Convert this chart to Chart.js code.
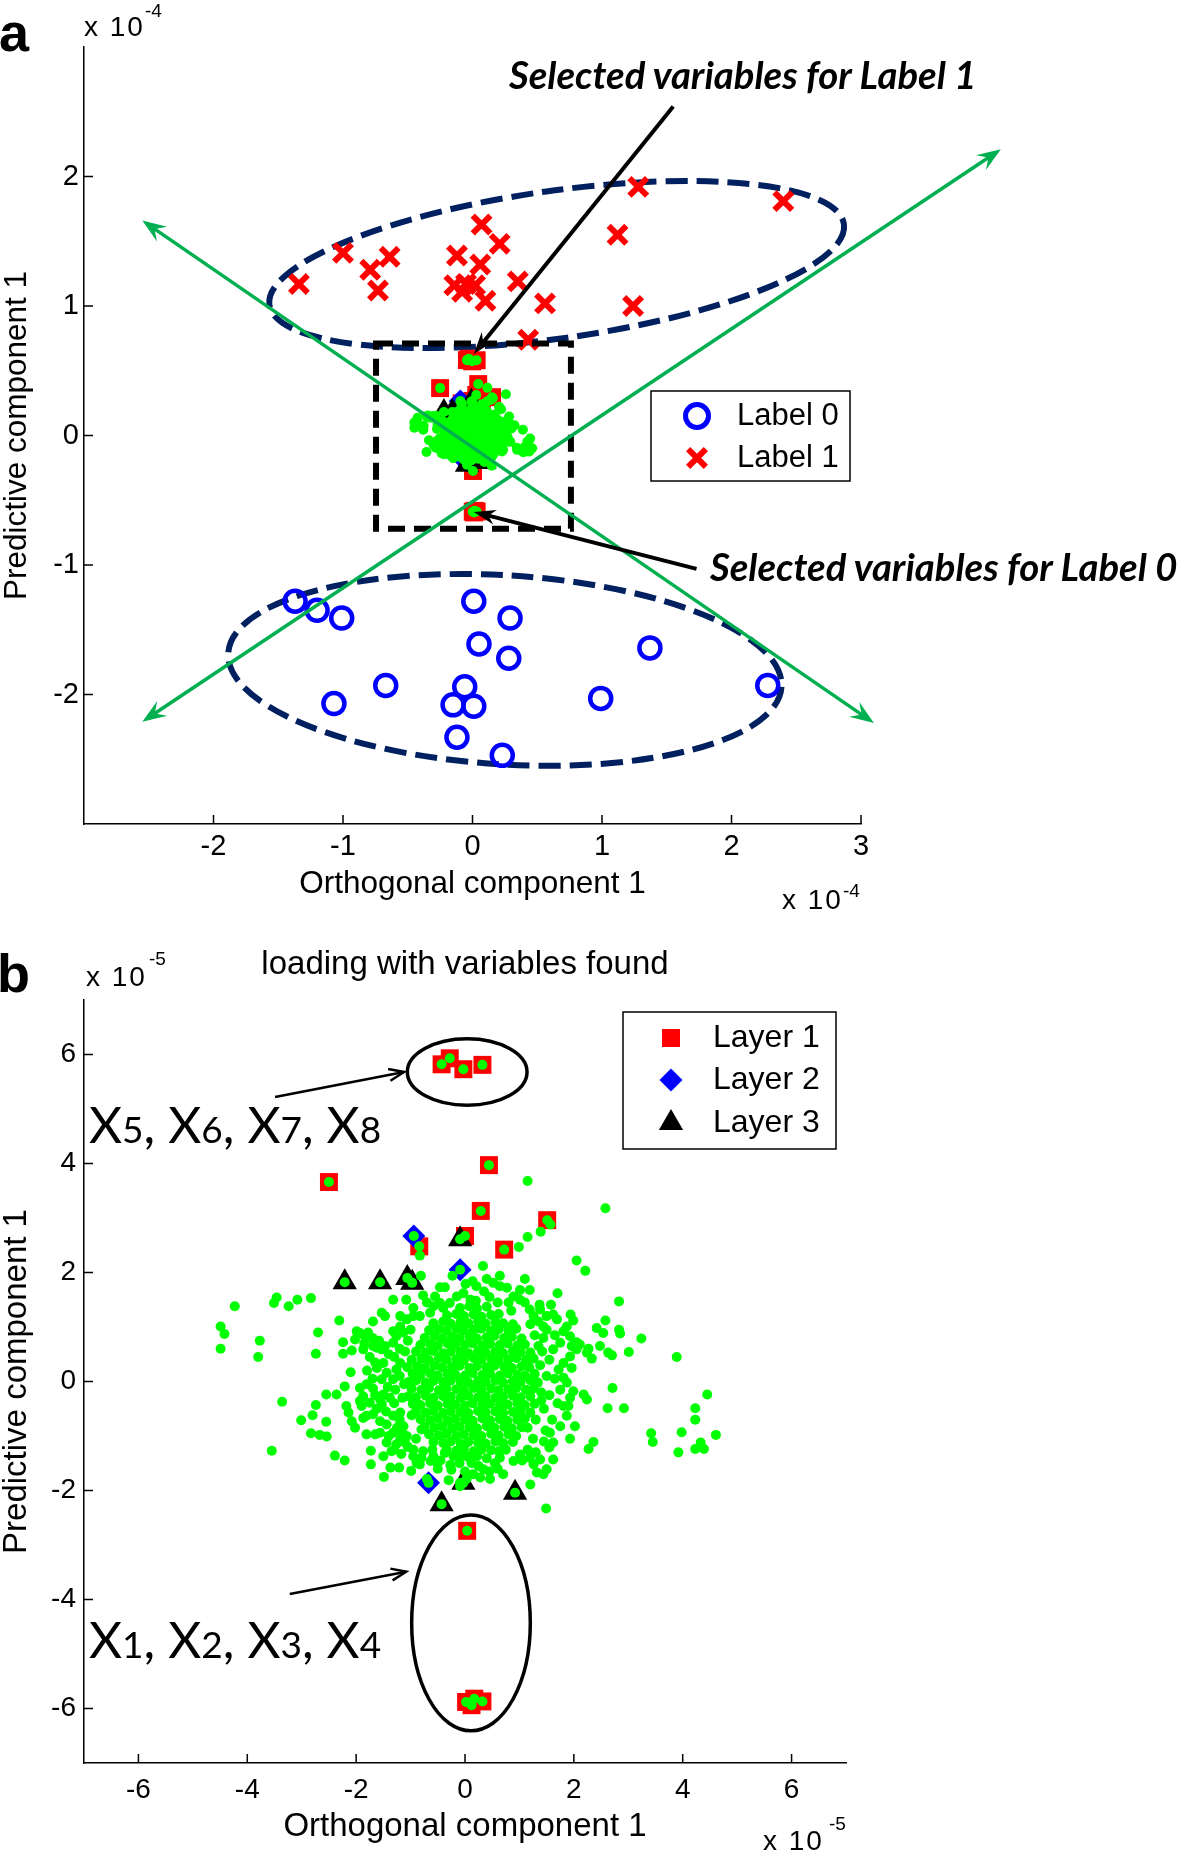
<!DOCTYPE html>
<html lang="en">
<head>
<meta charset="utf-8">
<title>Scores and loadings with selected variables</title>
<script src="https://cdn.jsdelivr.net/npm/chart.js@4.4.1/dist/chart.umd.min.js"></script>
<style>
  html, body { margin: 0; padding: 0; background: #fff; }
  #page { position: relative; width: 1180px; height: 1854px; overflow: hidden; }
  #page canvas { position: absolute; left: 0; }
  .txt { position: absolute; white-space: nowrap; line-height: 1; color: #000;
         font-family: "Liberation Sans", Arial, Helvetica, sans-serif; }
  .panel { font-weight: bold; font-size: 54px; }
  .mult { font-size: 28px; letter-spacing: 2px; }
  .pow { font-size: 19px; }
  .note { font-family: Lato, "Open Sans", sans-serif; font-weight: 700; font-style: italic; font-size: 38.3px; }
  .vars { font-family: Lato, "Open Sans", sans-serif; font-size: 51px; }
  .vars span { font-size: 37px; }
</style>
</head>
<body>
<div id="page">
  <canvas id="chartA" width="1180" height="930" style="top:0"></canvas>
  <canvas id="chartB" width="1180" height="924" style="top:930px"></canvas>

  <div class="txt panel" style="left:-1px;top:5px">a</div>
  <div class="txt mult" style="left:84px;top:13px">x 10</div>
  <div class="txt pow" style="left:145px;top:1px">-4</div>
  <div class="txt mult" style="left:782px;top:886px">x 10</div>
  <div class="txt pow" style="left:843px;top:881px">-4</div>
  <div class="txt note" style="left:509px;top:55px">Selected variables for Label 1</div>
  <div class="txt note" style="left:710px;top:547px">Selected variables for Label 0</div>

  <div class="txt panel" style="left:-3px;top:946px">b</div>
  <div class="txt mult" style="left:86px;top:963px">x 10</div>
  <div class="txt pow" style="left:149px;top:949px">-5</div>
  <div class="txt mult" style="left:763px;top:1827px">x 10</div>
  <div class="txt pow" style="left:829px;top:1814px">-5</div>
  <div class="txt vars" style="left:89px;top:1098px">X<span>5</span>, X<span>6</span>, X<span>7</span>, X<span>8</span></div>
  <div class="txt vars" style="left:89px;top:1613px">X<span>1</span>, X<span>2</span>, X<span>3</span>, X<span>4</span></div>
</div>
<script>
const FONT = '"Liberation Sans", Arial, Helvetica, sans-serif';

// ---------- panel a : scores (axes in 1e-4) ----------
const aXTicks = [-2, -1, 0, 1, 2, 3];
const aYTicks = [-2, -1, 0, 1, 2];
const label0X = [-1.37, -1.20, -1.01, 0.01, 0.29, 0.05, 0.28, 1.37, -0.67, -0.06, -1.07, -0.15, 0.01, -0.12, 0.23, 0.99, 2.28];
const label0Y = [-1.28, -1.35, -1.41, -1.28, -1.41, -1.61, -1.72, -1.64, -1.93, -1.94, -2.07, -2.08, -2.09, -2.33, -2.47, -2.03, -1.93];
const label1X = [-1.34, -1.00, -0.79, -0.64, -0.73, -0.12, 0.07, 0.21, 0.06, -0.14, -0.05, -0.08, 0.02, 0.10, 0.35, 0.56, 0.43, 1.28, 1.12, 2.40, 1.24];
const label1Y = [1.17, 1.41, 1.28, 1.38, 1.12, 1.39, 1.63, 1.48, 1.32, 1.16, 1.17, 1.11, 1.16, 1.04, 1.19, 1.02, 0.74, 1.92, 1.55, 1.81, 1.00];

// ---------- panel b : loadings (axes in 1e-5) ----------
const bTicks = [-6, -4, -2, 0, 2, 4, 6];
const layer1 = [[-2.50, 3.66], [0.44, 3.97], [0.29, 3.13], [1.51, 2.96], [0.00, 2.67], [-0.84, 2.48], [0.72, 2.42],
  [-0.43, 5.82], [-0.28, 5.93], [-0.03, 5.73], [0.32, 5.81],
  [0.04, -2.74], [0.02, -5.88], [0.17, -5.82], [0.32, -5.87], [0.12, -5.94]];
const layer2 = [[-0.94, 2.67], [-0.09, 2.05], [-0.67, -1.86]];
const layer3 = [[-2.21, 1.82], [-1.56, 1.82], [-1.06, 1.90], [-0.97, 1.81], [-0.09, 2.61], [-0.03, -1.86], [-0.43, -2.25], [0.92, -2.04]];
const loadings = [
  // dense core
  [-0.09,1.35],[0.08,1.38],[0.22,1.34],[0.40,1.37],
  [-0.33,1.21],[-0.16,1.24],[-0.02,1.20],[0.16,1.23],[0.30,1.19],[0.48,1.22],[0.62,1.24],
  [-0.58,1.07],[-0.40,1.10],[-0.26,1.06],[-0.08,1.09],[0.06,1.07],[0.24,1.10],[0.38,1.06],[0.56,1.09],[0.70,1.07],[0.88,1.05],
  [-0.66,0.94],[-0.48,0.96],[-0.34,0.93],[-0.16,0.97],[-0.02,0.94],[0.16,0.95],[0.30,0.97],[0.48,0.93],[0.62,0.96],[0.80,0.94],[0.94,0.97],
  [-0.74,0.80],[-0.56,0.83],[-0.42,0.79],[-0.24,0.82],[-0.10,0.80],[0.08,0.83],[0.22,0.79],[0.40,0.81],[0.54,0.84],[0.72,0.80],[0.86,0.82],[1.04,0.79],
  [-0.82,0.67],[-0.64,0.69],[-0.50,0.66],[-0.32,0.70],[-0.18,0.67],[0.00,0.68],[0.14,0.70],[0.32,0.66],[0.46,0.69],[0.64,0.67],[0.78,0.70],[0.96,0.66],[1.10,0.68],
  [-0.90,0.55],[-0.72,0.53],[-0.58,0.56],[-0.40,0.52],[-0.26,0.55],[-0.08,0.54],[0.06,0.52],[0.24,0.56],[0.38,0.53],[0.56,0.55],[0.70,0.52],[0.88,0.56],[1.02,0.54],[1.20,0.53],
  [-0.98,0.40],[-0.80,0.42],[-0.66,0.39],[-0.48,0.43],[-0.34,0.40],[-0.16,0.41],[-0.02,0.39],[0.16,0.43],[0.30,0.40],[0.48,0.42],[0.62,0.39],[0.80,0.41],[0.94,0.43],[1.12,0.40],[1.26,0.42],
  [-1.06,0.26],[-0.88,0.28],[-0.74,0.25],[-0.56,0.29],[-0.42,0.26],[-0.24,0.27],[-0.10,0.29],[0.08,0.25],[0.22,0.28],[0.40,0.26],[0.54,0.29],[0.72,0.27],[0.86,0.25],[1.04,0.28],[1.18,0.26],
  [-0.96,0.14],[-0.82,0.12],[-0.64,0.15],[-0.50,0.11],[-0.32,0.14],[-0.18,0.13],[0.00,0.11],[0.14,0.15],[0.32,0.12],[0.46,0.14],[0.64,0.11],[0.78,0.15],[0.96,0.13],[1.10,0.11],[1.28,0.14],
  [-1.04,-0.01],[-0.90,0.02],[-0.72,-0.02],[-0.58,0.01],[-0.40,-0.01],[-0.26,0.02],[-0.08,0.00],[0.06,-0.02],[0.24,0.01],[0.38,-0.01],[0.56,0.02],[0.70,-0.02],[0.88,0.01],[1.02,-0.01],[1.20,0.02],[1.34,-0.02],
  [-0.98,-0.13],[-0.80,-0.15],[-0.66,-0.12],[-0.48,-0.16],[-0.34,-0.13],[-0.16,-0.14],[-0.02,-0.16],[0.16,-0.12],[0.30,-0.15],[0.48,-0.13],[0.62,-0.16],[0.80,-0.14],[0.94,-0.12],[1.12,-0.15],[1.26,-0.13],
  [-1.04,-0.27],[-0.90,-0.29],[-0.72,-0.26],[-0.58,-0.30],[-0.40,-0.27],[-0.26,-0.28],[-0.08,-0.30],[0.06,-0.26],[0.24,-0.29],[0.38,-0.27],[0.56,-0.30],[0.70,-0.28],[0.88,-0.26],[1.02,-0.29],[1.20,-0.27],
  [-0.96,-0.41],[-0.82,-0.43],[-0.64,-0.40],[-0.50,-0.44],[-0.32,-0.41],[-0.18,-0.42],[0.00,-0.44],[0.14,-0.40],[0.32,-0.43],[0.46,-0.41],[0.64,-0.44],[0.78,-0.42],[0.96,-0.40],[1.10,-0.43],[1.28,-0.41],
  [-0.90,-0.55],[-0.72,-0.57],[-0.58,-0.54],[-0.40,-0.58],[-0.26,-0.55],[-0.08,-0.56],[0.06,-0.58],[0.24,-0.54],[0.38,-0.57],[0.56,-0.55],[0.70,-0.58],[0.88,-0.56],[1.02,-0.54],[1.20,-0.57],
  [-0.82,-0.69],[-0.64,-0.71],[-0.50,-0.68],[-0.32,-0.72],[-0.18,-0.69],[0.00,-0.70],[0.14,-0.72],[0.32,-0.68],[0.46,-0.71],[0.64,-0.69],[0.78,-0.72],[0.96,-0.70],[1.10,-0.68],
  [-0.74,-0.83],[-0.56,-0.85],[-0.42,-0.82],[-0.24,-0.86],[-0.10,-0.83],[0.08,-0.84],[0.22,-0.86],[0.40,-0.82],[0.54,-0.85],[0.72,-0.83],[0.86,-0.86],[1.04,-0.84],
  [-0.66,-0.97],[-0.48,-0.99],[-0.34,-0.96],[-0.16,-1.00],[-0.02,-0.97],[0.16,-0.98],[0.30,-1.00],[0.48,-0.96],[0.62,-0.99],[0.80,-0.97],[0.94,-1.00],
  [-0.58,-1.11],[-0.40,-1.13],[-0.26,-1.10],[-0.08,-1.14],[0.06,-1.11],[0.24,-1.12],[0.38,-1.14],[0.56,-1.10],[0.70,-1.13],[0.88,-1.11],
  [-0.34,-1.25],[-0.16,-1.27],[-0.02,-1.24],[0.16,-1.28],[0.30,-1.25],[0.48,-1.26],[0.62,-1.28],
  [-0.10,-1.38],[0.08,-1.40],[0.22,-1.37],[0.40,-1.41],
  // fringe round the core
  [-1.99,0.92],[-1.84,0.83],[-1.87,0.59],[-1.69,0.65],[-1.62,0.62],[-1.53,0.59],[-1.47,0.65],[-1.32,0.92],[-1.26,0.83],[-1.19,1.01],
  [-1.13,0.90],[-1.62,0.25],[-1.50,0.34],[-1.44,0.16],[-1.53,0.04],[-1.32,0.04],[-1.26,0.22],[-1.19,0.34],[-1.93,-0.12],[-1.81,-0.05],
  [-1.69,-0.13],[-1.87,-0.27],[-1.93,-0.36],[-1.90,-0.45],[-1.75,-0.39],[-1.56,-0.33],[-1.53,-0.42],[-1.50,-0.24],[-1.38,-0.30],[-2.18,-0.45],
  [-2.14,-0.57],[-2.08,-0.73],[-2.02,-0.85],[-1.87,-0.67],[-1.81,-0.63],[-1.69,-0.60],[-1.56,-0.73],[-1.44,-0.79],[-1.32,-0.63],[-1.19,-0.57],
  [-1.13,-0.82],[-1.32,-0.94],[-1.19,-1.06],[-1.07,-1.00],[-1.56,-0.94],[-1.81,-0.97],[-1.65,-0.97],[-1.44,-1.12],[-1.26,-1.15],[-1.10,-1.12],
  [-0.95,-1.25],[-1.50,-1.37],[-1.35,-1.28],[-0.95,-1.37],[-0.77,-1.28],[-0.58,-1.37],[-0.83,-1.52],[-0.37,-1.31],[-0.21,-1.37],[0.03,-1.37],
  [0.64,-1.40],[0.89,-1.46],[1.01,-1.34],[1.19,-1.40],[1.26,-1.52],[1.38,-1.43],[1.62,-1.12],[1.56,-0.94],[1.75,-0.82],[1.87,-0.63],
  [1.81,-0.45],[1.93,-0.30],[1.75,-0.15],[1.87,-0.02],[1.72,0.22],[1.81,0.34],[1.93,0.46],[2.05,0.59],[2.11,0.68],[1.62,0.59],
  [1.75,0.71],[1.93,0.83],[1.81,0.92],[1.87,1.01],[1.69,1.14],[1.50,1.20],[1.62,1.23],[1.38,1.32],[1.19,1.32],[1.26,1.20],
  [1.01,1.50],[0.89,1.56],[1.19,1.68],[1.01,1.68],[0.77,1.72],[0.64,1.75],[0.52,1.81],[0.21,1.75],[-0.03,1.62],[-0.15,1.56],
  [-0.28,1.44],[-0.58,1.38],[-0.64,1.26],[-0.83,1.20],[-0.95,1.20],[-1.07,1.14],[-1.19,1.20],[-1.32,0.71],[2.24,0.53],[1.44,1.01],
  [1.96,0.65],[1.45,-0.50],[1.50,0.10],[1.42,0.55],[1.48,-0.90],[-1.15,-0.30],[-1.20,0.10],[-1.10,0.55],[-1.25,-0.85],[1.40,-0.20],
  [1.38,0.30],[1.44,0.80],[1.30,-0.70],[-1.12,-0.05],[-1.05,0.75],[-0.98,-0.62],[0.60,1.45],[0.10,1.50],[0.85,1.30],[-0.40,1.35],
  [0.75,-1.25],[-0.60,-1.25],[1.15,-1.25],[0.20,1.48],[0.45,1.55],
  [-1.85,0.70],[-1.70,0.80],[-1.58,0.75],[-1.40,0.50],[-1.30,0.45],[-1.75,0.45],[-1.65,0.35],[-1.80,0.20],[-1.70,0.05],[-1.42,-0.10],
  [-1.28,-0.15],[-1.65,-0.25],[-1.45,-0.55],[-1.62,-0.50],[-1.30,-0.40],[-1.20,-0.70],[-1.40,-1.00],[-1.15,-0.95],[-1.30,-1.25],[-1.05,-1.20],
  [-0.80,-1.40],[-0.45,-1.45],[-0.10,-1.50],[0.55,-1.50],[1.05,-1.45],[1.30,-1.30],[1.45,-1.10],[1.60,-0.70],[1.70,-0.40],[1.55,-0.25],
  [1.65,0.05],[1.55,0.40],[1.65,0.85],[1.50,0.95],[1.35,1.10],[1.10,1.45],[0.80,1.45],[0.35,1.65],[-0.70,1.45],[-0.95,1.35],
  [-1.20,0.60],[-1.00,0.95],[1.20,1.05],[1.28,0.85],[1.35,0.65],[1.40,-0.35],[1.25,-1.05],[-0.90,-1.05],[-0.80,-0.88],[1.15,-0.85],
  [-0.25,-1.62],[0.00,-1.65],[0.25,-1.55],[0.45,-1.65],[-0.50,-1.60],[0.60,-1.60],[0.12,-1.50],
  // scattered points
  [1.15,3.68],[2.58,3.18],[1.57,2.88],[1.39,2.75],[1.15,2.65],[0.99,2.47],[2.05,2.22],[2.21,2.03],[0.33,2.12],[-0.23,1.94],
  [0.64,1.94],[1.10,1.88],[0.40,1.88],[0.14,1.84],[-0.81,1.94],[-0.37,1.73],[-0.46,1.73],[0.01,1.79],[-1.32,1.50],[-1.08,1.50],
  [-0.77,1.58],[-0.55,1.56],[-0.46,1.44],[1.70,1.62],[2.83,1.47],[1.58,1.41],[1.37,1.41],[-0.83,2.31],
  [-3.46,1.54],[-3.51,1.44],[-3.08,1.50],[-2.83,1.53],[-3.24,1.38],[-4.23,1.38],[-4.49,1.01],[-4.42,0.87],[-4.49,0.60],[-3.77,0.75],
  [-3.80,0.45],[-2.70,0.90],[-2.74,0.51],[-2.31,1.12],[-2.24,0.72],[-2.24,0.51],[-2.08,0.57],[-2.10,0.17],[-3.36,-0.37],[-2.74,-0.43],
  [-2.55,-0.24],[-2.36,-0.24],[-2.21,-0.09],[-3.01,-0.71],[-2.80,-0.62],[-2.55,-0.74],[-2.83,-0.95],[-2.67,-0.98],[-2.54,-1.01],[-3.55,-1.27],
  [-2.39,-1.36],[-2.21,-1.45],[-2.02,0.77],[-1.93,0.89],[-1.78,0.90],[-1.69,1.10],[-1.53,1.26],[-1.47,1.20],
  [2.58,1.12],[2.83,0.95],[2.85,0.88],[3.24,0.79],[3.01,0.54],[3.89,0.45],[2.71,-0.12],[4.45,-0.24],[4.23,-0.49],[4.23,-0.70],
  [2.62,-0.49],[2.92,-0.49],[3.42,-0.95],[3.45,-1.11],[3.98,-0.93],[4.61,-0.98],[3.92,-1.30],[4.23,-1.24],[4.39,-1.24],[4.33,-1.12],
  [2.27,-1.24],[2.36,-1.11],[2.24,-0.33],[2.18,-0.24],[2.42,0.98],[2.54,0.89],[2.48,0.65],[2.63,0.53],[2.70,0.48],[2.33,0.42],
  [2.27,0.60],[1.94,1.23],[1.99,1.12],[2.05,0.72],[1.96,0.25],[1.81,0.07],[1.99,-0.18],[1.90,-0.45],[2.02,-0.82],[1.93,-1.05],
  [-1.49,-1.75],[-1.37,-1.58],[-1.21,-1.58],[-1.73,-1.52],[-1.73,-1.27],[-1.17,-1.33],[-0.99,-1.64],[-0.89,-1.49],[-0.63,-1.46],[-0.51,-1.49],
  [-0.27,-1.53],[-0.30,-1.81],[0.46,-1.79],[0.70,-1.70],[0.34,-1.61],[1.20,-1.89],[1.49,-2.33],[1.50,-1.61],[1.62,-1.43],[1.32,-1.67],
  [1.44,-1.70],[1.55,-1.21],[-0.70,-1.79],[-0.09,-1.86],[0.03,-1.79],[-0.09,-1.92],[0.15,-1.70],[0.28,-1.76]
];

const A_PER_B = 0.1; // loadings are in 1e-5, panel a axes are in 1e-4

// overlay geometry (axis units)
const aEllipses = [{ cx: 0.65, cy: 1.32, rx: 2.24, ry: 0.57, rot: 8 }, { cx: 0.25, cy: -1.81, rx: 2.14, ry: 0.73, rot: -3.5 }];
const aAxisLines = [[-2.55, 1.66, 3.10, -2.22], [-2.55, -2.21, 4.08, 2.21]];
const aPointers = [[1.55, 2.54, 0.01, 0.63], [1.73, -1.03, 0.01, -0.59]];
const aBox = [-0.745, 0.76, -0.72, 0.71];
const bEllipses = [{ cx: 0.04, cy: 5.68, rx: 1.10, ry: 0.61, rot: 0 }, { cx: 0.11, cy: -4.43, rx: 1.09, ry: 1.98, rot: 0 }];
const bPointers = [[-3.49, 5.22, -1.12, 5.68], [-3.22, -3.90, -1.08, -3.49]];

const pairs = (xs, ys) => xs.map((x, i) => ({ x: x, y: ys[i] }));
const pts = (list, k) => list.map(p => ({ x: p[0] * k, y: p[1] * k }));

function loadingSets(k) {
  return [
    { label: 'loadings', data: pts(loadings.concat(layer1, layer2, layer3), k), pointStyle: 'circle',
      pointRadius: 5, backgroundColor: '#00ff00', borderWidth: 0, order: 0 },
    { label: 'Layer 3', data: pts(layer3, k), pointStyle: 'triangle', pointRadius: 14,
      backgroundColor: '#000', borderWidth: 0, order: 1 },
    { label: 'Layer 2', data: pts(layer2, k), pointStyle: 'rectRot', pointRadius: 11.5,
      backgroundColor: '#0000ff', borderWidth: 0, order: 2 },
    { label: 'Layer 1', data: pts(layer1, k), pointStyle: 'rect', pointRadius: 12.7,
      backgroundColor: '#ff0000', borderWidth: 0, order: 3 }
  ];
}

// ---------- drawing helpers ----------
function arrowHead(ctx, tx, ty, ang, h) {
  const ux = Math.cos(ang), uy = Math.sin(ang), nx = -uy, ny = ux;
  const bx = tx - ux * h.len, by = ty - uy * h.len;
  ctx.beginPath();
  ctx.moveTo(bx + nx * h.half, by + ny * h.half);
  ctx.lineTo(tx, ty);
  ctx.lineTo(bx - nx * h.half, by - ny * h.half);
  if (h.filled) {
    ctx.lineTo(tx - ux * h.len * h.notch, ty - uy * h.len * h.notch);
    ctx.closePath();
    ctx.fill();
  } else {
    ctx.stroke();
  }
}

function drawShape(chart, s) {
  const ctx = chart.ctx, sx = chart.scales.x, sy = chart.scales.y;
  const X = v => sx.getPixelForValue(v), Y = v => sy.getPixelForValue(v);
  ctx.save();
  ctx.strokeStyle = s.color;
  ctx.fillStyle = s.color;
  ctx.lineWidth = s.width;
  ctx.setLineDash(s.dash || []);
  if (s.type === 'ellipse') {
    const cx = X(s.e.cx), cy = Y(s.e.cy);
    ctx.beginPath();
    ctx.ellipse(cx, cy, Math.abs(X(s.e.cx + s.e.rx) - cx), Math.abs(Y(s.e.cy + s.e.ry) - cy),
      -s.e.rot * Math.PI / 180, 0, Math.PI * 2);
    ctx.stroke();
  } else if (s.type === 'box') {
    const x0 = X(s.b[0]), x1 = X(s.b[1]), y0 = Y(s.b[2]), y1 = Y(s.b[3]);
    ctx.beginPath();
    ctx.rect(Math.min(x0, x1), Math.min(y0, y1), Math.abs(x1 - x0), Math.abs(y1 - y0));
    ctx.stroke();
  } else if (s.type === 'arrow') {
    const x0 = X(s.p[0]), y0 = Y(s.p[1]), x1 = X(s.p[2]), y1 = Y(s.p[3]);
    const ang = Math.atan2(y1 - y0, x1 - x0), ux = Math.cos(ang), uy = Math.sin(ang);
    const cut = s.head.filled ? s.head.len * 0.6 : 0;
    ctx.beginPath();
    ctx.moveTo(x0 + (s.both ? ux * cut : 0), y0 + (s.both ? uy * cut : 0));
    ctx.lineTo(x1 - ux * cut, y1 - uy * cut);
    ctx.stroke();
    ctx.setLineDash([]);
    arrowHead(ctx, x1, y1, ang, s.head);
    if (s.both) arrowHead(ctx, x0, y0, ang + Math.PI, s.head);
  }
  ctx.restore();
}

function shapesPlugin(under, over) {
  return {
    id: 'shapes',
    beforeDatasetsDraw(chart) { under.forEach(s => drawShape(chart, s)); },
    afterDatasetsDraw(chart) { over.forEach(s => drawShape(chart, s)); }
  };
}

// MATLAB style ticks pointing into the axes
const insideTicks = {
  id: 'insideTicks',
  afterDraw(chart) {
    const { ctx, chartArea, scales } = chart;
    ctx.save();
    ctx.strokeStyle = '#000';
    ctx.lineWidth = 1.5;
    ctx.beginPath();
    scales.x.ticks.forEach(t => {
      const p = scales.x.getPixelForValue(t.value);
      ctx.moveTo(p, chartArea.bottom); ctx.lineTo(p, chartArea.bottom - 9);
    });
    scales.y.ticks.forEach(t => {
      const p = scales.y.getPixelForValue(t.value);
      ctx.moveTo(chartArea.left, p); ctx.lineTo(chartArea.left + 9, p);
    });
    ctx.stroke();
    ctx.restore();
  }
};

function drawMark(ctx, m, x, y) {
  ctx.save();
  ctx.fillStyle = m.color;
  ctx.strokeStyle = m.color;
  ctx.lineWidth = m.lw || 1;
  ctx.beginPath();
  const r = m.r;
  if (m.style === 'circle') {
    ctx.arc(x, y, r, 0, Math.PI * 2); ctx.stroke();
  } else if (m.style === 'crossRot') {
    const d = r * Math.SQRT1_2;
    ctx.moveTo(x - d, y - d); ctx.lineTo(x + d, y + d);
    ctx.moveTo(x + d, y - d); ctx.lineTo(x - d, y + d); ctx.stroke();
  } else if (m.style === 'rect') {
    const d = r * Math.SQRT1_2;
    ctx.rect(x - d, y - d, 2 * d, 2 * d); ctx.fill();
  } else if (m.style === 'rectRot') {
    ctx.moveTo(x - r, y); ctx.lineTo(x, y - r); ctx.lineTo(x + r, y); ctx.lineTo(x, y + r);
    ctx.closePath(); ctx.fill();
  } else if (m.style === 'triangle') {
    ctx.moveTo(x, y - r); ctx.lineTo(x + r * 0.866, y + r / 2); ctx.lineTo(x - r * 0.866, y + r / 2);
    ctx.closePath(); ctx.fill();
  }
  ctx.restore();
}

function boxLegend(cfg) {
  return {
    id: 'boxLegend',
    afterDraw(chart) {
      const ctx = chart.ctx, b = cfg.box;
      ctx.save();
      ctx.fillStyle = '#fff';
      ctx.fillRect(b[0], b[1], b[2] - b[0], b[3] - b[1]);
      ctx.strokeStyle = '#000';
      ctx.lineWidth = 1.5;
      ctx.strokeRect(b[0], b[1], b[2] - b[0], b[3] - b[1]);
      ctx.font = cfg.font;
      ctx.textBaseline = 'middle';
      cfg.items.forEach(it => {
        drawMark(ctx, it.mark, cfg.markX, it.y);
        ctx.fillStyle = '#000';
        ctx.fillText(it.text, cfg.textX, it.y);
      });
      ctx.restore();
    }
  };
}

function axis(min, max, tickList, tickSize, pad, fit, title) {
  return {
    type: 'linear', min: min, max: max,
    afterBuildTicks: s => { s.ticks = tickList.map(v => ({ value: v })); },
    afterFit: fit,
    grid: { display: false, drawTicks: false },
    border: { display: true, color: '#000', width: 1.5 },
    ticks: { color: '#000', font: { family: FONT, size: tickSize }, padding: pad,
             autoSkip: false, maxRotation: 0, minRotation: 0 },
    title: title
  };
}

// ---------- panel a ----------
const GREEN = '#00b050', NAVY = '#002060';
const greenHead = { len: 24, half: 9, notch: 0.62, filled: true };
const blackHead = { len: 22, half: 7.5, notch: 0.68, filled: true };

new Chart(document.getElementById('chartA'), {
  type: 'scatter',
  data: {
    datasets: loadingSets(A_PER_B).concat([
      { label: 'Label 1', data: pairs(label1X, label1Y), pointStyle: 'crossRot', pointRadius: 12.5,
        borderColor: '#ff0000', backgroundColor: '#ff0000', borderWidth: 6, order: 4 },
      { label: 'Label 0', data: pairs(label0X, label0Y), pointStyle: 'circle', pointRadius: 10.5,
        borderColor: '#0000ff', backgroundColor: 'rgba(0,0,0,0)', borderWidth: 4.5, order: 5 }
    ])
  },
  options: {
    responsive: false, animation: false, devicePixelRatio: 1, events: [],
    layout: { padding: { left: 0, top: 47, right: 319, bottom: 0 } },
    plugins: { legend: { display: false }, tooltip: { enabled: false } },
    scales: {
      x: axis(-3, 3, aXTicks, 29, 6, s => { s.height = 106; },
        { display: true, text: 'Orthogonal component 1', color: '#000',
          font: { family: FONT, size: 31.5, lineHeight: 1 }, padding: { top: 0, bottom: 30 } }),
      y: axis(-3, 3, aYTicks, 29, 5, s => { s.width = 84; },
        { display: true, text: 'Predictive component 1', color: '#000',
          font: { family: FONT, size: 31.5, lineHeight: 1 }, padding: { top: 2, bottom: 0 } })
    }
  },
  plugins: [
    shapesPlugin(
      aEllipses.map(e => ({ type: 'ellipse', e: e, color: NAVY, width: 6, dash: [22, 9] })),
      [{ type: 'box', b: aBox, color: '#000', width: 6, dash: [17, 9] }]
        .concat(aAxisLines.map(p => ({ type: 'arrow', p: p, both: true, color: GREEN, width: 3.5, head: greenHead })))
        .concat(aPointers.map(p => ({ type: 'arrow', p: p, both: false, color: '#000', width: 4, head: blackHead })))
    ),
    insideTicks,
    boxLegend({
      box: [651, 391, 850, 481], markX: 697, textX: 737, font: '31px ' + FONT,
      items: [
        { text: 'Label 0', y: 416, mark: { style: 'circle', r: 11.5, lw: 5, color: '#0000ff' } },
        { text: 'Label 1', y: 458, mark: { style: 'crossRot', r: 12.5, lw: 6, color: '#ff0000' } }
      ]
    })
  ]
});

// ---------- panel b ----------
const openHead = { len: 15, half: 6, filled: false };

new Chart(document.getElementById('chartB'), {
  type: 'scatter',
  data: { datasets: loadingSets(1) },
  options: {
    responsive: false, animation: false, devicePixelRatio: 1, events: [],
    layout: { padding: { left: 0, top: 0, right: 334, bottom: 0 } },
    plugins: {
      legend: { display: false }, tooltip: { enabled: false },
      title: { display: true, fullSize: false, text: 'loading with variables found', color: '#000',
               font: { family: FONT, size: 33, weight: 'normal', lineHeight: 1.2 },
               padding: { top: 15, bottom: 15.4 } }
    },
    scales: {
      x: axis(-7, 7, bTicks, 28, 10, s => { s.height = 91; },
        { display: true, text: 'Orthogonal component 1', color: '#000',
          font: { family: FONT, size: 33, lineHeight: 1 }, padding: { top: 0, bottom: 11 } }),
      y: axis(-7, 7, bTicks, 28, 8, s => { s.width = 84; },
        { display: true, text: 'Predictive component 1', color: '#000',
          font: { family: FONT, size: 33, lineHeight: 1 }, padding: { top: 0, bottom: 0 } })
    }
  },
  plugins: [
    shapesPlugin([],
      bEllipses.map(e => ({ type: 'ellipse', e: e, color: '#000', width: 3.5 }))
        .concat(bPointers.map(p => ({ type: 'arrow', p: p, both: false, color: '#000', width: 2.5, head: openHead })))
    ),
    insideTicks,
    boxLegend({
      box: [623, 82, 836, 219], markX: 671, textX: 713, font: '32px ' + FONT,
      items: [
        { text: 'Layer 1', y: 108, mark: { style: 'rect', r: 12.7, color: '#ff0000' } },
        { text: 'Layer 2', y: 150, mark: { style: 'rectRot', r: 11.5, color: '#0000ff' } },
        { text: 'Layer 3', y: 193, mark: { style: 'triangle', r: 14, color: '#000' } }
      ]
    })
  ]
});
</script>
</body>
</html>
